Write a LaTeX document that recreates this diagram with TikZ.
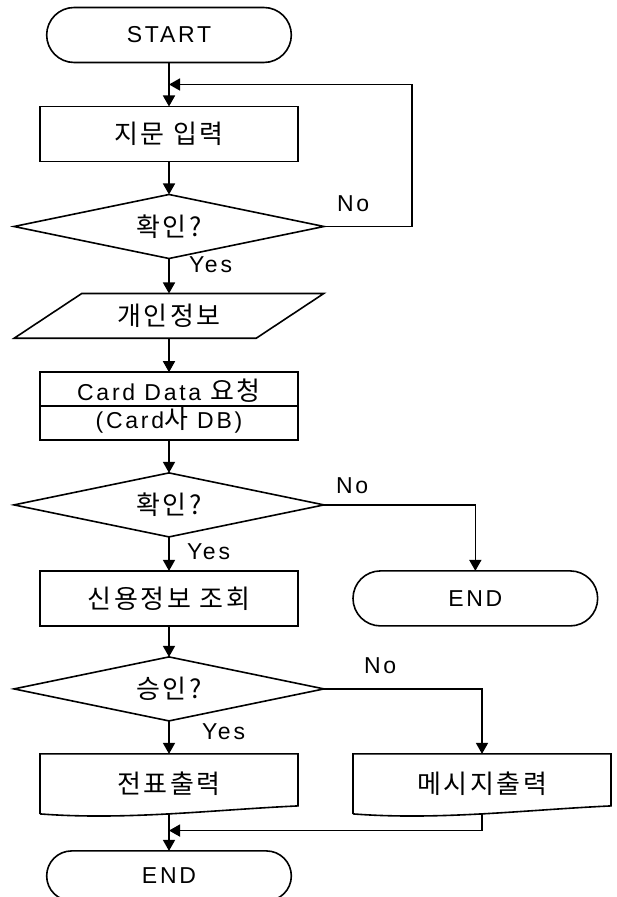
\documentclass[tikz,border=0pt]{standalone}
\usepackage{fontspec}
\setmainfont{Liberation Sans}[LetterSpace=12]
\newfontfamily\hangul{Noto Sans CJK KR}[Scale=1.13, LetterSpace=10]
\usetikzlibrary{shapes.geometric,shapes.misc,positioning,calc,arrows.meta}

\begin{document}
\begin{tikzpicture}[node distance=16.5pt, thick, >={Triangle[length=5.5pt,width=6pt]},
  every node/.style={font=\fontsize{11.5pt}{13.5pt}\selectfont, outer sep=0pt},
  term/.style={draw, rounded rectangle, minimum width=129pt, minimum height=27.5pt},
  box/.style={draw, rectangle, minimum width=129pt, minimum height=27.5pt},
  decide/.style={draw, diamond, aspect=4.9, minimum width=155pt, minimum height=32pt, inner sep=0pt},
  io/.style={draw, trapezium, trapezium left angle=33.5, trapezium right angle=146.5, minimum width=155pt, minimum height=20.5pt, inner sep=1pt},
  doc/.style={rectangle, minimum width=129pt, minimum height=30pt},
  lbl/.style={inner sep=0pt}]

\useasboundingbox (0,0) rectangle (308pt,-448.5pt);

% Nodes
\node[term] (start) at (84.5pt,-17.5pt) {START};
\node[box, below=22pt of start] (scan) {\hangul 지문 입력};
\node[decide, below=of scan] (chk1) {\hangul 확인?};
\node[io, below=17.5pt of chk1] (info) {\hangul 개인정보};
\node[box, minimum height=32.5pt, align=center, below=17pt of info] (card) {Card Data {\hangul 요청}\\[0.5pt](Card{\hangul 사} DB)};
\node[decide, below=of card] (chk2) {\hangul 확인?};
\node[box, below=17pt of chk2] (credit) {\hangul 신용정보 조회};
\node[term, right=27.5pt of credit] (end2) {END};
\node[decide, below=15.5pt of credit] (ok) {\hangul 승인?};
\node[doc, below=of ok] (slip) {\hangul 전표출력};
\node[doc, right=27.5pt of slip] (msg) {\hangul 메시지출력};
\node[term, minimum height=25pt, below=18.5pt of slip] (end1) {END};

% Card box divider and document outlines
\draw (card.west) -- (card.east);
\foreach \n in {slip,msg}
  \draw (\n.south west) -- (\n.north west) -- (\n.north east) -- ([yshift=4pt]\n.south east)
    .. controls ([xshift=-43pt,yshift=2pt]\n.south east) and ([xshift=43pt,yshift=-3.3pt]\n.south west) .. (\n.south west);

% Joins
\coordinate (loop) at ($(start.south)!0.5!(scan.north)$);
\coordinate (merge) at ($(slip.south)!0.45!(end1.north)$);

% Arrows
\draw[->] (start) -- (scan);
\draw[->] (scan) -- (chk1);
\draw[->] (chk1) -- (info);
\draw[->] (info) -- (card);
\draw[->] (card) -- (chk2);
\draw[->] (chk2) -- (credit);
\draw[->] (credit) -- (ok);
\draw[->] (ok) -- (slip);
\draw[->] (slip) -- (end1);
\draw[->] (chk1.east) -- ++(44pt,0) |- (loop);
\draw[->] (chk2.east) -| (end2.north);
\draw[->] (ok.east) -| (msg.north);
\draw[->] (msg.south) |- (merge);

% Labels
\node[lbl, above right=7.5pt and 6.5pt of chk1.east] (no1) {No};
\node[lbl, above right=5.5pt and 6pt of chk2.east] (no2) {No};
\node[lbl, above right=7.5pt and 20pt of ok.east] (no3) {No};
\node[lbl, below right=-1pt and 10pt of chk1.south] (yes1) {Yes};
\node[lbl, below right=3.5pt and 9pt of chk2.south] (yes2) {Yes};
\node[lbl, below right=1.5pt and 16.5pt of ok.south] (yes3) {Yes};

\end{tikzpicture}
\end{document}
